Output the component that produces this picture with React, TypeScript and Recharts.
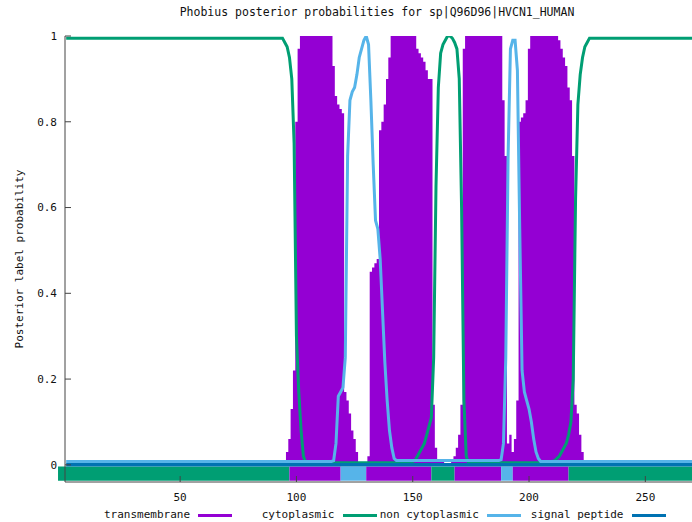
import { Area, ComposedChart, Line, ReferenceArea, XAxis, YAxis } from "recharts"

// [residue, posterior probability]
const transmembrane: [number, number][] = [
  [1, 0], [94, 0], [95, 0.01], [96, 0.03], [97, 0.06], [98, 0.13], [99, 0.22], [100, 0.8], [101, 0.97], [102, 1],
  [115, 1], [116, 0.93], [117, 0.86], [118, 0.84], [119, 0.83], [120, 0.82], [121, 0.17], [122, 0.15], [123, 0.12],
  [124, 0.08], [125, 0.06], [126, 0.03], [127, 0], [130, 0], [131, 0.02], [132, 0.45], [133, 0.46], [134, 0.47],
  [135, 0.48], [136, 0.78], [137, 0.8], [138, 0.84], [139, 0.9], [140, 0.95], [141, 1], [151, 1], [152, 0.97],
  [153, 0.96], [154, 0.95], [155, 0.94], [156, 0.92], [157, 0.9], [158, 0.9], [159, 0.14], [160, 0.04], [161, 0.01],
  [163, 0.01], [164, 0], [166, 0], [167, 0.01], [168, 0.02], [169, 0.04], [170, 0.07], [171, 0.14], [172, 0.97],
  [173, 1], [188, 1], [189, 0.85], [190, 0.72], [191, 0.05], [192, 0.07], [193, 0.03], [194, 0.06], [195, 0.15],
  [196, 0.8], [197, 0.81], [198, 0.82], [199, 0.85], [200, 0.97], [201, 1], [212, 1], [213, 0.99], [214, 0.97],
  [215, 0.95], [216, 0.93], [217, 0.88], [218, 0.85], [219, 0.72], [220, 0.14], [221, 0.12], [222, 0.07], [223, 0.03],
  [224, 0], [273, 0],
]

const cytoplasmic: [number, number][] = [
  [1, 0.995], [94, 0.995], [95, 0.985], [96, 0.975], [97, 0.95], [98, 0.9], [99, 0.75], [100, 0.3], [101, 0.17],
  [102, 0.08], [103, 0.02], [104, 0.005], [149, 0.005], [150, 0.008], [151, 0.01], [152, 0.02], [153, 0.03],
  [154, 0.04], [155, 0.05], [156, 0.07], [157, 0.09], [158, 0.11], [159, 0.25], [160, 0.65], [161, 0.88], [162, 0.96],
  [163, 0.98], [164, 0.99], [165, 1], [166, 1], [167, 0.995], [168, 0.985], [169, 0.97], [170, 0.9], [171, 0.6],
  [172, 0.15], [173, 0.02], [174, 0.005], [209, 0.005], [210, 0.008], [211, 0.01], [212, 0.015], [213, 0.02],
  [214, 0.03], [215, 0.04], [216, 0.05], [217, 0.07], [218, 0.1], [219, 0.2], [220, 0.62], [221, 0.84], [222, 0.91],
  [223, 0.95], [224, 0.975], [225, 0.985], [226, 0.995], [273, 0.995],
]

const nonCytoplasmic: [number, number][] = [
  [1, 0.008], [115, 0.008], [116, 0.01], [117, 0.05], [118, 0.16], [119, 0.17], [120, 0.18], [121, 0.25], [122, 0.72],
  [123, 0.85], [124, 0.87], [125, 0.88], [126, 0.91], [127, 0.95], [128, 0.97], [129, 0.99], [130, 1], [131, 0.98],
  [132, 0.85], [133, 0.7], [134, 0.57], [135, 0.55], [136, 0.48], [137, 0.36], [138, 0.24], [139, 0.15], [140, 0.08],
  [141, 0.04], [142, 0.015], [143, 0.01], [187, 0.01], [188, 0.012], [189, 0.05], [190, 0.25], [191, 0.72],
  [192, 0.97], [193, 0.99], [194, 0.99], [195, 0.92], [196, 0.55], [197, 0.22], [198, 0.17], [199, 0.15], [200, 0.13],
  [201, 0.1], [202, 0.06], [203, 0.03], [204, 0.015], [205, 0.008], [273, 0.008],
]

const signalPeptide: [number, number][] = [[1, 0], [273, 0]]

// predicted topology: [label, first residue, last residue]
const topology: [string, number, number][] = [
  ["cyto", 1, 97], ["tm", 98, 119], ["noncyto", 120, 130], ["tm", 131, 158], ["cyto", 159, 168],
  ["tm", 169, 188], ["noncyto", 189, 193], ["tm", 194, 217], ["cyto", 218, 273],
]

const xTicks = [50, 100, 150, 200, 250]
const yTicks = [0, 0.2, 0.4, 0.6, 0.8, 1]

const COLORS: Record<string, string> = {
  tm: "#9400d3",
  cyto: "#009e73",
  noncyto: "#56b4e9",
  signal: "#0072b2",
}

const legendItems = [
  { name: "transmembrane", color: COLORS.tm },
  { name: "cytoplasmic", color: COLORS.cyto },
  { name: "non cytoplasmic", color: COLORS.noncyto },
  { name: "signal peptide", color: COLORS.signal },
]

const FONT = '"DejaVu Sans Mono", monospace'
const AXIS = "#444"

const rows = (pts: [number, number][]) => pts.map(([r, p]) => ({ r, p }))

const XTick = ({ x, y, payload }: any) => (
  <g>
    <line x1={x} x2={x} y1={y - 11} y2={y - 17} stroke={AXIS} />
    <text x={x} y={y} dy="0.71em" textAnchor="middle" fontSize={11} fontFamily={FONT} fill="#111">
      {payload.value}
    </text>
  </g>
)

const YTick = ({ x, y, payload }: any) => (
  <g>
    <line x1={x + 8} x2={x + 14} y1={y} y2={y} stroke={AXIS} />
    <text x={x} y={y} dy="0.35em" textAnchor="end" fontSize={11} fontFamily={FONT} fill="#111">
      {payload.value}
    </text>
  </g>
)

export default function App() {
  return (
    <div style={{ position: "relative", width: 692, height: 522, overflow: "hidden", background: "#fff", fontFamily: FONT }}>
      <style>{`body{margin:0}`}</style>
      <div
        style={{
          position: "absolute", left: 0, width: 754, top: 5, textAlign: "center",
          fontSize: 11.5, lineHeight: "14px", color: "#111",
        }}
      >
        Phobius posterior probabilities for sp|Q96D96|HVCN1_HUMAN
      </div>
      <div
        style={{
          position: "absolute", left: 19, top: 259, transform: "translate(-50%, -50%) rotate(-90deg)",
          whiteSpace: "nowrap", fontSize: 11, lineHeight: "13px", color: "#111",
        }}
      >
        Posterior label probability
      </div>

      <ComposedChart width={700} height={522} margin={{ top: 36, right: 0, bottom: 0, left: 0 }}>
        <XAxis
          dataKey="r"
          type="number"
          domain={[0.5, 273.5]}
          ticks={xTicks}
          allowDataOverflow
          height={40}
          tickSize={6}
          tickMargin={5}
          tickLine={false}
          axisLine={{ stroke: AXIS }}
          tick={(props: any) => <XTick {...props} />}
        />
        <XAxis
          xAxisId="top"
          orientation="top"
          type="number"
          domain={[0.5, 273.5]}
          height={0}
          tick={false}
          tickLine={false}
          axisLine={{ stroke: "#666" }}
        />
        <YAxis
          type="number"
          domain={[-0.04, 1]}
          ticks={yTicks}
          allowDataOverflow
          width={65}
          tickSize={6}
          tickMargin={2}
          tickLine={false}
          axisLine={{ stroke: AXIS }}
          tick={(props: any) => <YTick {...props} />}
        />
        {topology.map(([kind, start, end], i) => (
          <ReferenceArea
            key={i}
            x1={i === 0 ? start - 3.5 : start - 1}
            x2={end}
            y1={-0.037}
            y2={-0.004}
            fill={COLORS[kind]}
            fillOpacity={1}
            stroke="none"
            ifOverflow="visible"
          />
        ))}
        <Area
          data={rows(transmembrane)}
          dataKey="p"
          type="step"
          baseValue={0}
          stroke="none"
          fill={COLORS.tm}
          fillOpacity={1}
          isAnimationActive={false}
        />
        <Line data={rows(cytoplasmic)} dataKey="p" stroke={COLORS.cyto} strokeWidth={3} dot={false} isAnimationActive={false} />
        <Line data={rows(nonCytoplasmic)} dataKey="p" stroke={COLORS.noncyto} strokeWidth={3} dot={false} isAnimationActive={false} />
        <Line data={rows(signalPeptide)} dataKey="p" stroke={COLORS.signal} strokeWidth={3.5} dot={false} isAnimationActive={false} />
      </ComposedChart>

      <div style={{ position: "absolute", top: 508, left: 87.5, display: "flex", fontSize: 11, lineHeight: "14px", color: "#111" }}>
        {legendItems.map((item) => (
          <div key={item.name} style={{ width: 144.5, display: "flex", alignItems: "center", justifyContent: "flex-end" }}>
            <span>{item.name}</span>
            <span style={{ display: "inline-block", width: 34, height: 3, background: item.color, margin: "0 0 0 8px" }} />
          </div>
        ))}
      </div>
    </div>
  )
}
